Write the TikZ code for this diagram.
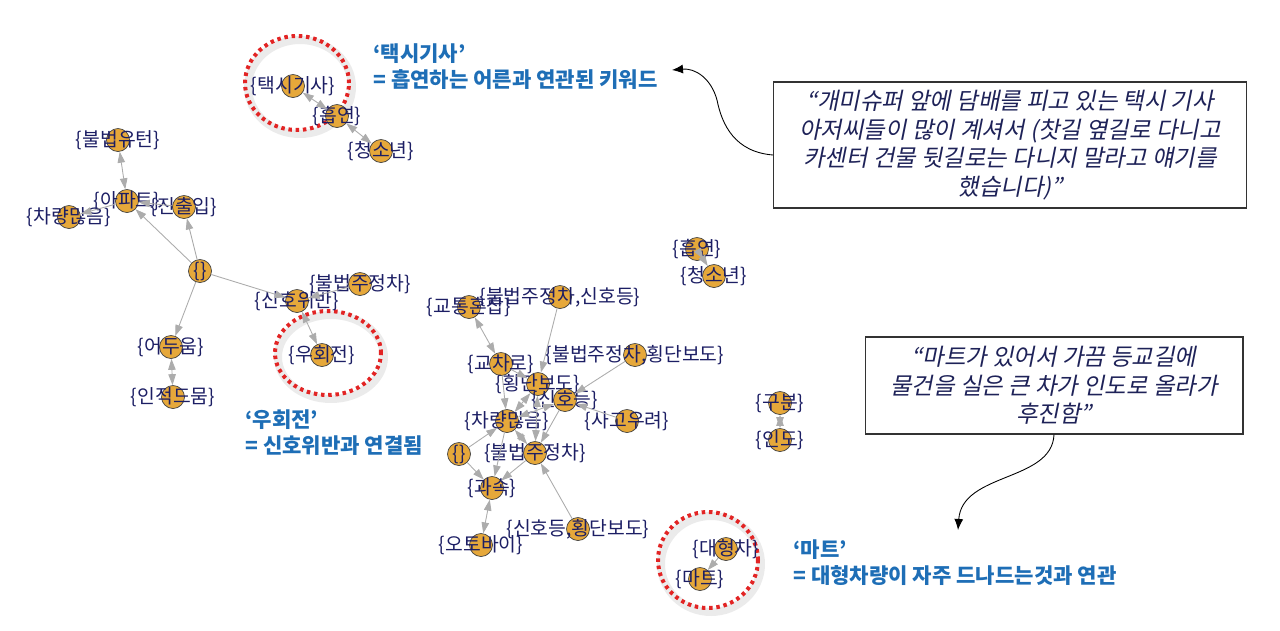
\documentclass[tikz,border=0pt]{standalone}
\usepackage{fontspec}
\setmainfont{Noto Sans CJK KR}
\newfontfamily\quotefont[FakeSlant=0.2]{Noto Sans CJK KR}
\usepackage{tikz}
\usetikzlibrary{arrows.meta}
\usepackage{xcolor}

\definecolor{vfill}{RGB}{230,168,58}
\definecolor{lblnavy}{RGB}{28,30,100}
\definecolor{edgegray}{RGB}{172,172,172}
\definecolor{noteblue}{RGB}{30,110,182}
\definecolor{hlred}{RGB}{226,36,36}
\definecolor{quotenavy}{RGB}{30,34,88}

\begin{document}
\begin{tikzpicture}[
  x=0.02cm, y=-0.02cm,
  vtx/.style    ={circle, draw=black!75, line width=0.4pt, fill=vfill, minimum size=0.46cm, inner sep=0pt},
  lbl/.style    ={font=\fontsize{11}{12}\selectfont, text=lblnavy, inner sep=0pt},
  edge/.style   ={draw=edgegray, line width=0.5pt, -{Triangle[length=2.2mm, width=1.5mm]}},
  bi/.style     ={edge, {Triangle[length=2.2mm, width=1.5mm]}-{Triangle[length=2.2mm, width=1.5mm]}},
  hl/.style     ={draw=hlred, line width=0.8mm, dash pattern=on 0.7mm off 0.75mm},
  hlshadow/.style={draw=black, opacity=0.08, line width=1.6mm},
  note/.style   ={anchor=north west, align=left, inner sep=0pt, text=noteblue,
                  font=\fontsize{12}{14.8}\selectfont\bfseries},
  quotebox/.style={rectangle, draw=black!80, line width=0.6pt, fill=white, align=center,
                  text=quotenavy, font=\quotefont\fontsize{13.3}{16.2}\selectfont},
  callout/.style={draw=black, line width=0.5pt, -{Latex[length=2.2mm, width=1.8mm]}}
]
\useasboundingbox (0,0) rectangle (1280,630);

%% highlight rings (shadow first, red dots on top)
\draw[hlshadow] (300,87) ellipse (1.04cm and 0.94cm);
\draw[hlshadow] (331,357) ellipse (1.06cm and 0.84cm);
\draw[hlshadow] (711,564) ellipse (1.0cm and 0.96cm);
\draw[hl] (297,83)  ellipse (1.04cm and 0.94cm);
\draw[hl] (328,353) ellipse (1.06cm and 0.84cm);
\draw[hl] (708,560) ellipse (1.0cm and 0.96cm);

%% Left group: taxi driver / smoking
\node[vtx, label={[lbl]center:{\{택시기사\}}}] (taxi)   at (293,86)  {};
\node[vtx, label={[lbl]center:{\{흡연\}}}]     (smokeA) at (337,116) {};
\node[vtx, label={[lbl]center:{\{청소년\}}}]   (teenA)  at (381,151) {};

%% Left group: apartment
\node[vtx, label={[lbl]center:{\{불법유턴\}}}] (uturn) at (118,140) {};
\node[vtx, label={[lbl]center:{\{아파트\}}}]   (apt)   at (127,201) {};
\node[vtx, label={[lbl]center:{\{차량많음\}}}] (carsA) at (69,217)  {};
\node[vtx, label={[lbl]center:{\{진출입\}}}]   (entry) at (184,207) {};
\node[vtx, label={[lbl]center:{\{\}}}]         (emptyA) at (200,271) {};

%% Left group: signal / right turn / darkness
\node[vtx, label={[lbl]center:{\{불법주정차\}}}] (parkA)  at (360,284) {};
\node[vtx, label={[lbl]center:{\{신호위반\}}}]   (signal) at (297,301) {};
\node[vtx, label={[lbl]center:{\{우회전\}}}]     (rturn)  at (322,355) {};
\node[vtx, label={[lbl]center:{\{어두움\}}}]     (dark)   at (171,347) {};
\node[vtx, label={[lbl]center:{\{인적드뭄\}}}]   (lonely) at (173,397) {};

%% Right-hand small pairs
\node[vtx, label={[lbl]center:{\{흡연\}}}]   (smokeB)   at (697,249) {};
\node[vtx, label={[lbl]center:{\{청소년\}}}] (teenB)    at (714,276) {};
\node[vtx, label={[lbl]center:{\{구분\}}}]   (split)    at (780,403) {};
\node[vtx, label={[lbl]center:{\{인도\}}}]   (sidewalk) at (780,440) {};
\node[vtx, label={[lbl]center:{\{대형차\}}}] (truck)    at (726,549) {};
\node[vtx, label={[lbl]center:{\{마트\}}}]   (mart)     at (700,579) {};

%% Central cluster
\node[vtx, label={[lbl]center:{\{불법주정차,신호등\}}}]   (parkSig)  at (560,297) {};
\node[vtx, label={[lbl]center:{\{교통혼잡\}}}]           (jam)      at (469,307) {};
\node[vtx, label={[lbl]center:{\{교차로\}}}]             (cross)    at (501,364) {};
\node[vtx, label={[lbl]center:{\{불법주정차,횡단보도\}}}] (parkWalk) at (635,355) {};
\node[vtx, label={[lbl]center:{\{횡단보도\}}}]           (walk)     at (538,384) {};
\node[vtx, label={[lbl]center:{\{신호등\}}}]             (light)    at (565,400) {};
\node[vtx, label={[lbl]center:{\{사고우려\}}}]           (worry)    at (627,421) {};
\node[vtx, label={[lbl]center:{\{차량많음\}}}]           (carsB)    at (507,421) {};
\node[vtx, label={[lbl]center:{\{\}}}]                   (emptyB)   at (459,454) {};
\node[vtx, label={[lbl]center:{\{불법주정차\}}}]         (parkB)    at (535,453) {};
\node[vtx, label={[lbl]center:{\{과속\}}}]               (speed)    at (492,488) {};
\node[vtx, label={[lbl]center:{\{오토바이\}}}]           (bike)     at (481,545) {};
\node[vtx, label={[lbl]center:{\{신호등,횡단보도\}}}]     (sigWalk)  at (578,529) {};

%% one-way rules
\foreach \a/\b in {emptyA/apt, emptyA/entry, emptyA/signal, emptyA/dark, apt/carsA, entry/apt,
                   parkA/signal, parkSig/walk, parkWalk/light, cross/walk, cross/carsB,
                   worry/light, light/parkB, emptyB/carsB, emptyB/speed, carsB/speed,
                   parkB/speed, sigWalk/parkB, truck/mart}{
  \draw[edge] (\a) -- (\b);
}

%% two-way rules
\foreach \a/\b in {taxi/smokeA, smokeA/teenA, apt/uturn, signal/rturn, dark/lonely,
                   smokeB/teenB, split/sidewalk, jam/cross, walk/carsB, walk/parkB,
                   light/carsB, carsB/parkB, speed/bike}{
  \draw[bi] (\a) -- (\b);
}

%% blue notes
\node[note] (noteTaxi) at (373,43)  {‘택시기사’\\= 흡연하는 어른과 연관된 키워드};
\node[note] (noteTurn) at (245,409) {‘우회전’\\= 신호위반과 연결됨};
\node[note] (noteMart) at (793,539) {‘마트’\\= 대형차량이 자주 드나드는것과 연관};

%% interview quotes
\node[quotebox, minimum width=9.46cm, minimum height=2.52cm] (quoteA) at (1010,145)
  {“개미슈퍼 앞에 담배를 피고 있는 택시 기사\\아저씨들이 많이 계셔서 (찻길 옆길로 다니고\\카센터 건물 뒷길로는 다니지 말라고 얘기를\\했습니다)”};
\node[quotebox, minimum width=7.56cm, minimum height=1.94cm] (quoteB) at (1054,385.5)
  {“마트가 있어서 가끔 등교길에\\물건을 실은 큰 차가 인도로 올라가\\후진함”};

\coordinate (taxiTip) at (672,70);
\coordinate (martTip) at (958,530);
\draw[callout] ([yshift=-0.2cm]quoteA.west) .. controls (735,152) and (722,125) .. (717,100)
  .. controls (711,78) and (695,68) .. (taxiTip);
\draw[callout] (quoteB.south) .. controls (1052,482) and (962,472) .. (martTip);

\end{tikzpicture}
\end{document}
